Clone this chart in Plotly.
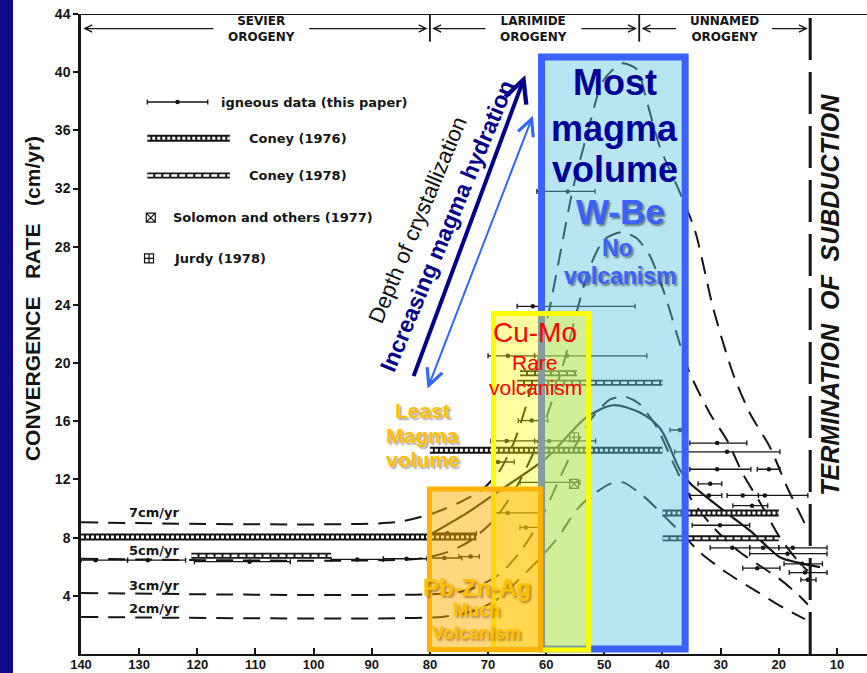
import plotly.graph_objects as go

INK = "#151515"

# ---------------- axes ----------------
AGE_RANGE = [140, 4.83]
RATE_RANGE = [0, 44]
AGE_TICKS = list(range(10, 141, 10))
RATE_TICKS = list(range(4, 45, 4))

# ---------------- orogenies ----------------
OROGENY_BOUNDS = [140, 80, 44, 14.6]
OROGENY_NAMES = ["SEVIER", "LARIMIDE", "UNNAMED"]
OROGENY_CENTERS = [109, 62.2, 29.4]
TERMINATION_AGE = 14.6

# ---------------- constant-rate reference curves (cm/yr) ----------------
RATE_LABELS = ["7cm/yr", "5cm/yr", "3cm/yr", "2cm/yr"]
RATE_LABEL_Y = [9.7, 7.1, 4.7, 3.15]

c7_age = [140, 86, 80, 75, 71, 68, 65.5, 63.5, 61.5, 59.5, 57.6, 55.4, 53.0, 50.2, 47,
          44.4, 42.7, 40.4, 37.3, 34.4, 31.3, 27.9, 24.9, 21.5, 18.6, 15.2]
c7_rate = [9.05, 9.05, 9.6, 10.4, 11.3, 12.6, 14.6, 17.0, 20.0, 23.6, 27.5, 32.0, 35.7, 39.4, 40.6,
           40.2, 38.0, 34.8, 32.0, 29.1, 23.8, 19.3, 16.5, 14.2, 11.5, 8.7]

c5_age = [140, 82, 77, 73, 69, 65.5, 62, 59.5, 57, 54.7, 52.5, 50, 47, 44.5, 42.2,
          39.5, 37, 35.3, 31.8, 28.9, 26.2, 23.2, 19.8, 16.5, 15.0]
c5_rate = [6.55, 6.55, 7.0, 7.8, 9.2, 11.2, 14.0, 16.8, 20.0, 23.6, 26.6, 28.5, 29.0, 28.6, 27.4,
           24.6, 21.3, 19.3, 16.5, 14.7, 12.4, 10.4, 8.0, 6.3, 5.7]

c3_age = [140, 76, 72, 68, 64.5, 61, 58, 55, 52, 49, 46.5, 44, 41, 38, 35, 31, 27, 23, 20, 17, 15]
c3_rate = [4.2, 4.2, 4.6, 5.5, 7.0, 9.2, 11.8, 14.3, 16.3, 17.5, 17.7, 17.2, 15.6, 13.0, 10.6,
           8.6, 7.1, 6.0, 5.2, 4.2, 3.4]

c2_age = [140, 78, 73, 69, 66.5, 64, 61.5, 58, 55, 52.5, 49, 46.8, 43.4, 40, 36.5, 33.6, 29, 23.6, 19.3, 15.5]
c2_rate = [2.55, 2.55, 2.9, 3.6, 4.4, 5.4, 6.4, 8.0, 9.8, 10.8, 11.7, 11.8, 10.9, 9.6, 8.2, 7.0,
           5.6, 4.25, 3.2, 2.4]

# ---------------- best-fit convergence path ----------------
fit_age = [80.0, 73.6, 68.5, 59.9, 53.0, 48.5, 43.9, 40.4, 37.0, 35.3, 29.6, 25.0, 19.8, 16.9, 12.9]
fit_rate = [8.2, 9.7, 11.1, 13.5, 16.3, 17.1, 16.6, 15.5, 12.65, 11.75, 9.9, 8.5, 6.65, 6.3, 5.97]

# ---------------- igneous data (this paper) ----------------
ig_age = [137.5, 128.5, 111.0, 92.5, 84.0, 77.5, 73.0, 77.0,
          66.6, 63.5, 60.5, 68.3, 66.8, 59.5, 62.5, 66.6, 56.4, 62.3, 56.3,
          37.0, 30.6, 28.9, 30.6, 21.7, 31.8, 32.0, 26.2, 22.4, 24.6, 30.1,
          28.0, 22.7, 17.6, 18.5, 16.0, 23.7, 15.5, 15.0]
ig_rate = [6.45, 6.45, 6.35, 6.5, 6.55, 6.6, 6.7, 8.3,
           9.7, 8.7, 11.8, 13.2, 14.65, 14.65, 16.05, 20.5, 20.5, 23.9, 31.8,
           15.4, 14.5, 13.9, 12.7, 12.7, 11.7, 10.9, 10.9, 10.9, 10.2, 8.85,
           7.3, 7.3, 7.3, 6.9, 6.2, 5.9, 5.6, 5.1]
ig_old = [140.0, 132.0, 120.5, 97.0, 88.0, 80.0, 75.0, 80.0,
          69.0, 64.5, 64.5, 69.3, 69.5, 62.0, 64.8, 70.0, 62.0, 65.0, 61.6,
          38.7, 35.3, 37.9, 35.3, 23.7, 33.9, 35.3, 28.9, 23.5, 27.9, 34.9,
          31.8, 25.0, 20.0, 25.0, 19.1, 26.2, 18.2, 16.2]
ig_young = [132.0, 122.0, 104.0, 88.0, 80.5, 74.5, 71.5, 72.0,
            61.0, 61.0, 54.2, 65.5, 62.0, 51.5, 59.7, 62.0, 42.7, 44.7, 51.6,
            36.6, 25.5, 19.8, 24.8, 19.8, 29.8, 29.8, 23.5, 15.0, 21.9, 25.0,
            25.0, 20.0, 11.7, 11.7, 12.5, 19.8, 11.7, 13.6]

# ---------------- published rates: (older age, younger age, rate) ----------------
coney1976 = [(140, 72, 8.05), (80, 40, 14.0), (40, 20, 9.7)]
coney1978 = [(121, 97, 6.75), (65, 40, 18.65), (64.5, 54.7, 19.3), (40, 20, 7.95)]
solomon_age, solomon_rate = [55.2], [11.7]
jurdy_age, jurdy_rate = [55.2], [14.9]

# ---------------- legend rows ----------------
LEG_GLYPH = (128.6, 114.4)
LEG_ROWS = [37.95, 35.45, 32.9, 30.0, 27.2]

fig = go.Figure()


def seg_xy(segments):
    xs, ys = [], []
    for a0, a1, r in segments:
        xs += [a0, a1, None]
        ys += [r, r, None]
    return xs, ys


def add_hatched(segments, outer, inner, dash):
    xs, ys = seg_xy(segments)
    fig.add_trace(go.Scatter(x=xs, y=ys, mode="lines", line=dict(color=INK, width=outer),
                             hoverinfo="skip"))
    fig.add_trace(go.Scatter(x=xs, y=ys, mode="lines",
                             line=dict(color="white", width=inner, dash=dash), hoverinfo="skip"))


# reference curves
for ages, rates in [(c7_age, c7_rate), (c5_age, c5_rate), (c3_age, c3_rate), (c2_age, c2_rate)]:
    fig.add_trace(go.Scatter(x=ages, y=rates, mode="lines",
                             line=dict(color=INK, width=2, dash="17px,10px", shape="spline", smoothing=0.7),
                             hoverinfo="skip"))

# termination of subduction
fig.add_trace(go.Scatter(x=[TERMINATION_AGE, TERMINATION_AGE], y=[0, 44], mode="lines",
                         line=dict(color=INK, width=3, dash="42px,12px"), hoverinfo="skip"))

# best-fit path
fig.add_trace(go.Scatter(x=fit_age, y=fit_rate, mode="lines",
                         line=dict(color=INK, width=2.2, shape="spline", smoothing=0.8), hoverinfo="skip"))

# Coney bars
add_hatched(coney1976, 7, 3, "3px,2px")
add_hatched(coney1978, 6, 2.4, "6px,2px")

# igneous data
ig_plus = [o - a for o, a in zip(ig_old, ig_age)]
ig_minus = [a - y for a, y in zip(ig_age, ig_young)]
fig.add_trace(go.Scatter(x=ig_age, y=ig_rate, mode="markers",
                         marker=dict(size=4.5, color=INK),
                         error_x=dict(type="data", symmetric=False, array=ig_plus, arrayminus=ig_minus,
                                      thickness=1.3, width=2.5, color=INK),
                         hoverinfo="skip"))

# Solomon and Jurdy points
fig.add_trace(go.Scatter(x=solomon_age, y=solomon_rate, mode="markers",
                         marker=dict(symbol="square-x-open", size=9, color=INK, line=dict(width=1.2)),
                         hoverinfo="skip"))
fig.add_trace(go.Scatter(x=jurdy_age, y=jurdy_rate, mode="markers",
                         marker=dict(symbol="square-cross-open", size=9, color=INK, line=dict(width=1.2)),
                         hoverinfo="skip"))

# ---- legend glyphs ----
g0, g1 = LEG_GLYPH
gmid = (g0 + 118.2) / 2
fig.add_trace(go.Scatter(x=[gmid], y=[LEG_ROWS[0]], mode="markers", marker=dict(size=4.5, color=INK),
                         error_x=dict(type="data", symmetric=False, array=[g0 - gmid],
                                      arrayminus=[gmid - 118.2], thickness=1.3, width=2.5, color=INK),
                         hoverinfo="skip"))
add_hatched([(g0, g1, LEG_ROWS[1])], 7, 3, "3px,2px")
add_hatched([(g0, g1, LEG_ROWS[2])], 6, 2.4, "6px,2px")
fig.add_trace(go.Scatter(x=[128.0], y=[LEG_ROWS[3]], mode="markers",
                         marker=dict(symbol="square-x-open", size=9, color=INK, line=dict(width=1.2)),
                         hoverinfo="skip"))
fig.add_trace(go.Scatter(x=[128.3], y=[LEG_ROWS[4]], mode="markers",
                         marker=dict(symbol="square-cross-open", size=9, color=INK, line=dict(width=1.2)),
                         hoverinfo="skip"))

LEG_FONT = dict(family="DejaVu Sans", size=13, color=INK, weight="bold")
legend_texts = [("igneous data (this paper)", 116.2), ("Coney (1976)", 111.4), ("Coney (1978)", 111.4),
                ("Solomon and others (1977)", 124.6), ("Jurdy (1978)", 124.3)]
annotations = []
for (txt, ax), ry in zip(legend_texts, LEG_ROWS):
    annotations.append(dict(x=ax, y=ry, text=txt, showarrow=False, xanchor="left", font=LEG_FONT))

# rate labels
for lab, ry in zip(RATE_LABELS, RATE_LABEL_Y):
    annotations.append(dict(x=127.4, y=ry, text=lab, showarrow=False,
                            font=dict(family="DejaVu Sans", size=13, color=INK, weight="bold")))

# ---- orogeny band ----
shapes = []
ARROW_Y = 43.0
for name, c, (b0, b1) in zip(OROGENY_NAMES, OROGENY_CENTERS, zip(OROGENY_BOUNDS[:-1], OROGENY_BOUNDS[1:])):
    annotations.append(dict(x=c, y=42.95, text=name + "<br>OROGENY", showarrow=False,
                            font=dict(family="DejaVu Sans", size=12, color=INK, weight="bold")))
    for tail, head in [(c + 8, b0 - 0.4), (c - 8, b1 + 0.4)]:
        annotations.append(dict(x=head, y=ARROW_Y, ax=tail, ay=ARROW_Y, axref="x", ayref="y",
                                text="", showarrow=True, arrowhead=5, arrowsize=1.2, arrowwidth=1.2,
                                arrowcolor=INK))
for b in OROGENY_BOUNDS[1:3]:
    shapes.append(dict(type="line", x0=b, x1=b, y0=42.1, y1=44, line=dict(color=INK, width=1.8)))
shapes.append(dict(type="line", xref="paper", x0=0, x1=1, y0=44, y1=44, line=dict(color=INK, width=2.2)))

# left frame strip
shapes.append(dict(type="rect", xref="paper", yref="paper", x0=-0.2, x1=(13 - 81) / 786, y0=-0.2, y1=1.2,
                   fillcolor="#0b0b8c", line=dict(width=0), layer="above"))

# ---- ore-deposit zones ----
shapes.append(dict(type="rect", x0=60.8, x1=36.1, y0=0.34, y1=41.05, layer="above",
                   fillcolor="rgba(95,197,226,0.45)", line=dict(color="#3a62ff", width=7)))
shapes.append(dict(type="rect", x0=69.06, x1=52.7, y0=0.28, y1=23.41, layer="above",
                   fillcolor="rgba(255,255,0,0.37)", line=dict(color="#ffff00", width=5)))
shapes.append(dict(type="rect", x0=80.07, x1=60.98, y0=0.31, y1=11.34, layer="above",
                   fillcolor="rgba(255,176,0,0.5)", line=dict(color="#ffb300", width=5)))

SANS = "Liberation Sans"
NAVY = "#000099"
BRIGHT = "#3a62ff"
GOLD = "#ffc000"
zone_text = [
    ("Most", 48.2, 39.3, 36, NAVY, True, None),
    ("magma", 48.2, 36.1, 36, NAVY, True, None),
    ("volume", 48.2, 33.3, 36, NAVY, True, None),
    ("W-Be", 47.3, 30.4, 35, BRIGHT, True, "2px 2px 2px rgba(0,0,0,0.45)"),
    ("No", 47.8, 27.9, 23, BRIGHT, True, "2px 2px 2px rgba(0,0,0,0.45)"),
    ("volcanism", 47.3, 26.0, 23, BRIGHT, True, "2px 2px 2px rgba(0,0,0,0.45)"),
    ("Cu-Mo", 61.9, 22.1, 28, "#ff0000", False, None),
    ("Rare", 61.9, 20.05, 21, "#ff0000", False, None),
    ("volcanism", 61.9, 18.35, 21, "#ff0000", False, None),
    ("Least", 81.2, 16.75, 21, GOLD, True, "2px 2px 2px rgba(0,0,0,0.35)"),
    ("Magma", 81.2, 15.05, 21, GOLD, True, "2px 2px 2px rgba(0,0,0,0.35)"),
    ("volume", 81.2, 13.35, 21, GOLD, True, "2px 2px 2px rgba(0,0,0,0.35)"),
    ("Pb-Zn-Ag", 71.9, 4.6, 24, GOLD, True, "2px 2px 2px rgba(120,60,0,0.5)"),
    ("Much", 71.9, 3.0, 18, GOLD, True, "2px 2px 2px rgba(120,60,0,0.5)"),
    ("Volcanism", 71.9, 1.45, 18, GOLD, True, "2px 2px 2px rgba(120,60,0,0.5)"),
]
for txt, ax, ry, size, col, bold, shadow in zone_text:
    f = dict(family=SANS, size=size, color=col, weight="bold" if bold else "normal")
    if shadow:
        f["shadow"] = shadow
    annotations.append(dict(x=ax, y=ry, text=txt, showarrow=False, font=f))

# hydration arrows and captions
annotations.append(dict(x=63.6, y=39.8, ax=82.9, ay=19.0, axref="x", ayref="y", text="", showarrow=True,
                        arrowhead=5, arrowsize=1.1, arrowwidth=4, arrowcolor="#00008b"))
annotations.append(dict(x=62.3, y=37.0, ax=80.5, ay=18.15, axref="x", ayref="y", text="", showarrow=True,
                        arrowside="end+start", arrowhead=5, startarrowhead=5, arrowsize=1.6,
                        startarrowsize=1.6, arrowwidth=2, arrowcolor="#3366ff"))
annotations.append(dict(x=82.05, y=29.85, text="Depth of crystallization", showarrow=False, textangle=-67.3,
                        font=dict(family=SANS, size=22, color="#111111")))
annotations.append(dict(x=77.0, y=29.4, text="Increasing magma hydration", showarrow=False, textangle=-67.3,
                        font=dict(family=SANS, size=23, color="#00008b", weight="bold")))

# termination caption
annotations.append(dict(x=11.2, y=24.7, text="<b><i>TERMINATION  OF  SUBDUCTION</i></b>", showarrow=False,
                        textangle=-90, font=dict(family=SANS, size=25, color=INK)))

# y-axis title
annotations.append(dict(xref="paper", x=(32 - 81) / 786, xanchor="center", y=24.4,
                        text="<b>CONVERGENCE\u00a0\u00a0\u00a0RATE\u00a0\u00a0\u00a0(cm/yr)</b>",
                        showarrow=False, textangle=-90, font=dict(family=SANS, size=21, color=INK)))

fig.update_layout(
    width=867, height=673,
    margin=dict(l=81, r=0, t=14, b=19),
    paper_bgcolor="white", plot_bgcolor="white",
    showlegend=False,
    shapes=shapes, annotations=annotations,
    xaxis=dict(range=AGE_RANGE, tickvals=AGE_TICKS, ticks="inside", ticklen=6, tickwidth=1.6,
               tickcolor=INK, showline=True, linecolor=INK, linewidth=2.2, showgrid=False,
               zeroline=False, automargin=False, ticklabelstandoff=-3,
               tickfont=dict(family=SANS, size=13, color=INK, weight="bold")),
    yaxis=dict(range=RATE_RANGE, tickvals=RATE_TICKS, ticks="outside", ticklen=5, tickwidth=1.6,
               tickcolor=INK, showline=True, linecolor=INK, linewidth=2.5, showgrid=False,
               zeroline=False, automargin=False,
               tickfont=dict(family=SANS, size=14, color=INK, weight="bold")),
)

fig.write_html("out.html", config={"displayModeBar": False})
